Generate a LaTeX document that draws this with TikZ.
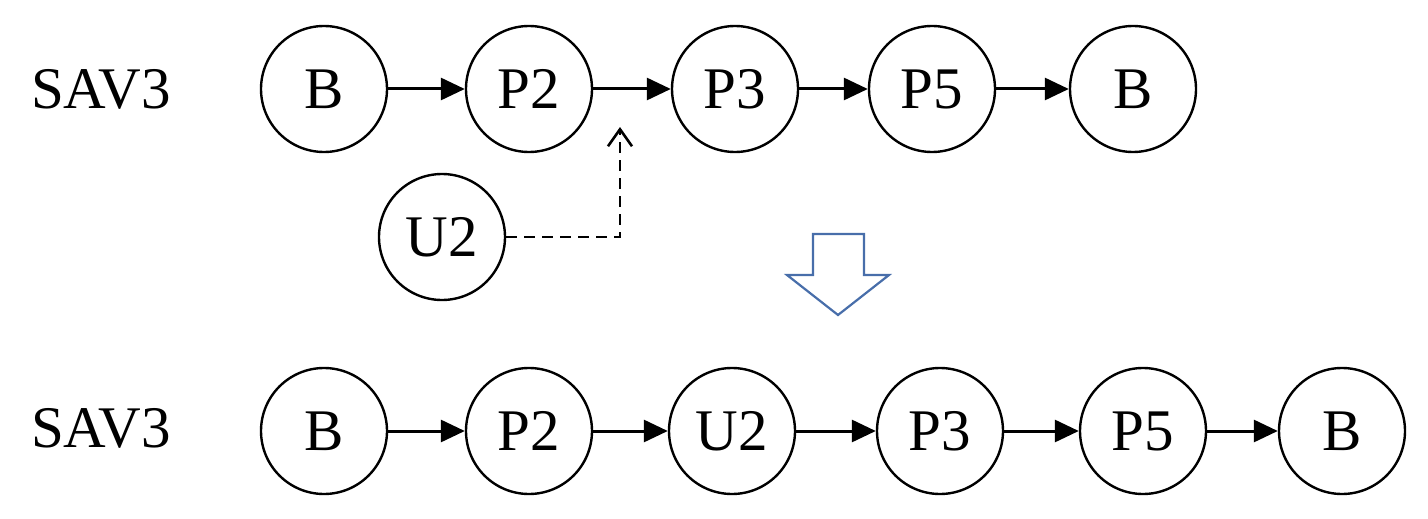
\documentclass[tikz,border=0pt]{standalone}
\usepackage{fontspec}
\setmainfont{Liberation Serif}
\usetikzlibrary{arrows.meta}
\definecolor{hollowblue}{RGB}{72,110,170}
\begin{document}
\begin{tikzpicture}[x=1pt,y=-1pt,
  st/.style={circle,draw,line width=2.4pt,minimum size=126pt,inner sep=0pt,font=\rmfamily\fontsize{59}{61}\selectfont},
  lbl/.style={font=\rmfamily\fontsize{59}{61}\selectfont,inner sep=0pt},
  link/.style={line width=3pt,-{Triangle[length=24pt,width=22pt]}},
  dlink/.style={line width=2.6pt,dash pattern=on 11pt off 7pt,-{Straight Barb[length=17pt,width=24pt,line width=2.6pt]}}]
\useasboundingbox (0,0) rectangle (1428,519);
% top row
\node[lbl] (s1) at (101,89) {SAV3};
\node[st] (a1) at (324,89) {B};
\node[st] (a2) at (529,89) {P2};
\node[st] (a3) at (735,89) {P3};
\node[st] (a4) at (932,89) {P5};
\node[st] (a5) at (1133,89) {B};
\node[st] (u) at (442,237) {U2};
\coordinate (tip) at (620,127);
\draw[link] (a1) -- (a2);
\draw[link] (a2) -- (a3);
\draw[link] (a3) -- (a4);
\draw[link] (a4) -- (a5);
\draw[dlink] (u.east) -| (tip);
% hollow arrow
\draw[hollowblue,line width=2.2pt,line join=miter]
  (813,234) -- (864,234) -- (864,275) -- (889,275) -- (838,315) -- (787,275) -- (813,275) -- cycle;
% bottom row
\node[lbl] (s2) at (101,428) {SAV3};
\node[st] (b1) at (324,431) {B};
\node[st] (b2) at (529,431) {P2};
\node[st] (b3) at (732,431) {U2};
\node[st] (b4) at (940,431) {P3};
\node[st] (b5) at (1143,431) {P5};
\node[st] (b6) at (1342,431) {B};
\draw[link] (b1) -- (b2);
\draw[link] (b2) -- (b3);
\draw[link] (b3) -- (b4);
\draw[link] (b4) -- (b5);
\draw[link] (b5) -- (b6);
\end{tikzpicture}
\end{document}
